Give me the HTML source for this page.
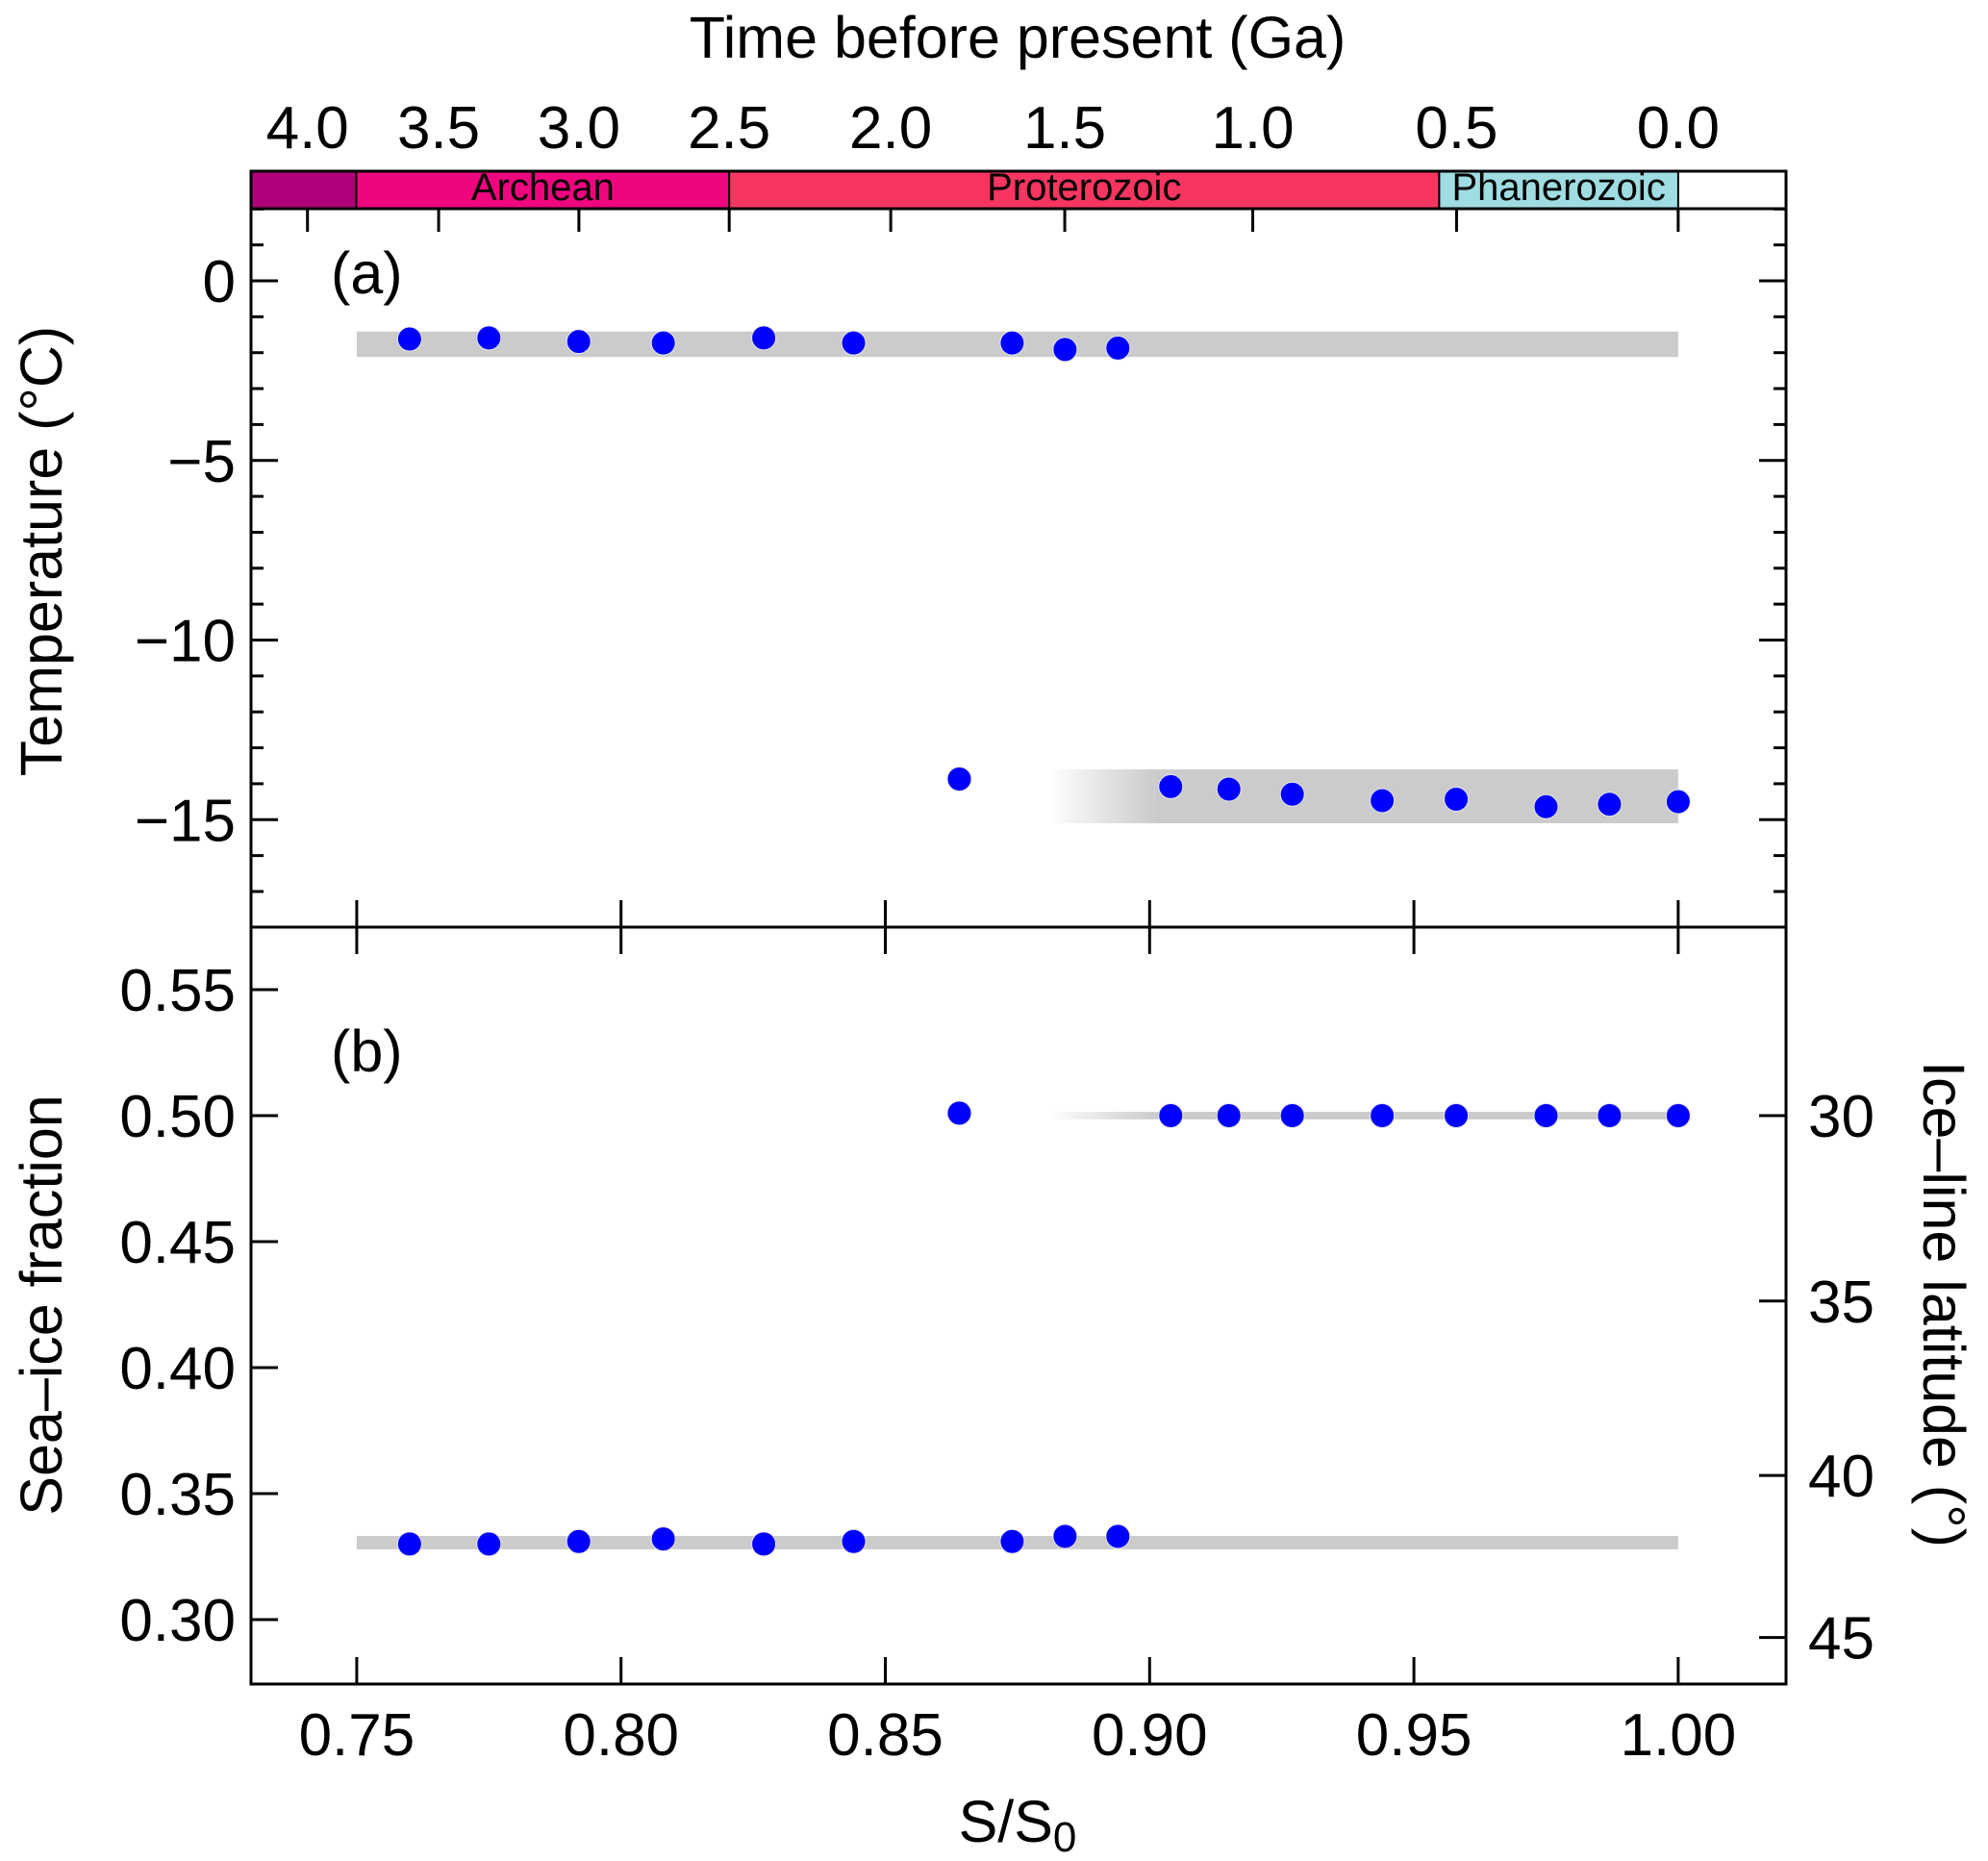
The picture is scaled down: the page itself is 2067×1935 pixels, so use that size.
<!DOCTYPE html>
<html><head><meta charset="utf-8"><style>
html,body{margin:0;padding:0;background:#fff;}
svg{display:block;font-family:"Liberation Sans",Arial,sans-serif;}
</style></head><body>
<svg id="chart" width="2067" height="1935" viewBox="0 0 2067 1935" xmlns="http://www.w3.org/2000/svg">
<defs>
<linearGradient id="fadeGrad" x1="0" x2="1" y1="0" y2="0">
<stop offset="0" stop-color="#cbcbcb" stop-opacity="0"/>
<stop offset="1" stop-color="#cbcbcb" stop-opacity="1"/>
</linearGradient>
</defs>
<g id="layer"></g>
</svg>
<script>
// ---- data ----
const warmS = [0.76,0.775,0.792,0.808,0.827,0.844,0.874,0.884,0.894];
const warmT = [-1.62,-1.59,-1.69,-1.73,-1.59,-1.73,-1.73,-1.91,-1.87];
const coldS = [0.864,0.904,0.915,0.927,0.944,0.958,0.975,0.987,1.0];
const coldT = [-13.87,-14.08,-14.15,-14.29,-14.47,-14.43,-14.64,-14.57,-14.5];
const warmIce = [0.330,0.330,0.331,0.332,0.330,0.331,0.331,0.333,0.333];
const coldIce = [0.501,0.500,0.500,0.500,0.500,0.500,0.500,0.500,0.500];
const xTicks = [0.75,0.80,0.85,0.90,0.95,1.00];
const xTickLabels = ["0.75","0.80","0.85","0.90","0.95","1.00"];
const tTicks = [0,-5,-10,-15];
const tTickLabels = ["0","\u22125","\u221210","\u221215"];
const fTicks = [0.30,0.35,0.40,0.45,0.50,0.55];
const fTickLabels = ["0.30","0.35","0.40","0.45","0.50","0.55"];
const latTicks = [30,35,40,45];
const timeTicks = [4.0,3.5,3.0,2.5,2.0,1.5,1.0,0.5,0.0];
const timeTickLabels = ["4.0","3.5","3.0","2.5","2.0","1.5","1.0","0.5","0.0"];
const eonNames = ["","Archean","Proterozoic","Phanerozoic"];
const eonStartGa = [4.3,3.81,2.5,0.541];
const eonEndGa = [3.81,2.5,0.541,0.0];
const eonColors = ["#b0007a","#ef067f","#f73560","#9fdde2"];
const warmBandT = [-1.41,-2.12];
const coldBandT = [-13.6,-15.1];
const warmBandF = [0.3332,0.3279];
const coldBandF = [0.5015,0.4985];

// ---- axes ----
const L=261,R=1857,TOPBAR=178,TOP=217,MID=964,BOT=1751;
const X0=0.73,X1=1.0204;
const FS=62, TFS=61;
function xs(s){return L+(s-X0)/(X1-X0)*(R-L);}
function yT(t){return 292 - t*37.35;}
function yF(f){return 1684-(f-0.30)*2620;}
function sOfGa(ga){return 1/(1+0.4*ga/4.57);}
function fOfLat(lat){return 1-Math.sin(lat*Math.PI/180);}

const NS="http://www.w3.org/2000/svg";
const layer=document.getElementById('layer');
function mk(tag,attrs,parent){const e=document.createElementNS(NS,tag);for(const k in attrs)e.setAttribute(k,attrs[k]);(parent||layer).appendChild(e);return e;}
function line(x1,y1,x2,y2,w){return mk('line',{x1:x1,y1:y1,x2:x2,y2:y2,stroke:'#000','stroke-width':w||3});}
function txt(x,y,s,size,anchor,extra){const e=mk('text',Object.assign({x:x,y:y,'font-size':size,'text-anchor':anchor||'middle',fill:'#000'},extra||{}));e.textContent=s;return e;}

// eon bar
for(let i=0;i<eonNames.length;i++){
  const x1=Math.max(L,xs(sOfGa(eonStartGa[i]))), x2=xs(sOfGa(eonEndGa[i]));
  const r=mk('rect',{x:x1,y:TOPBAR,width:x2-x1,height:TOP-TOPBAR,fill:eonColors[i],stroke:'#000','stroke-width':2});
  
  
  if(eonNames[i]){const t=txt((x1+x2)/2,TOP-9,eonNames[i],40);
    
    }
}

// bands
function band(y1,y2,xa,xb,fill,name){const r=mk('rect',{x:xa,y:Math.min(y1,y2),width:xb-xa,height:Math.abs(y2-y1),fill:fill});
  
  }
band(yT(warmBandT[0]),yT(warmBandT[1]),xs(0.75),xs(1.0),'#cbcbcb','warm-band-temperature');
band(yT(coldBandT[0]),yT(coldBandT[1]),xs(0.881),xs(0.901),'url(#fadeGrad)','cold-band-fade-temperature');
band(yT(coldBandT[0]),yT(coldBandT[1]),xs(0.901),xs(1.0),'#cbcbcb','cold-band-temperature');
band(yF(warmBandF[0]),yF(warmBandF[1]),xs(0.75),xs(1.0),'#cbcbcb','warm-band-ice');
band(yF(coldBandF[0]),yF(coldBandF[1]),xs(0.881),xs(0.901),'url(#fadeGrad)','cold-band-fade-ice');
band(yF(coldBandF[0]),yF(coldBandF[1]),xs(0.901),xs(1.0),'#cbcbcb','cold-band-ice');

// points
function dot(x,y,name){const c=mk('circle',{cx:x,cy:y,r:12.5,fill:'#0000ff',stroke:'#e6e6e6','stroke-width':1});
  
  }
warmS.forEach((s,i)=>dot(xs(s),yT(warmT[i]),'warm-temp-point'));
coldS.forEach((s,i)=>dot(xs(s),yT(coldT[i]),'cold-temp-point'));
warmS.forEach((s,i)=>dot(xs(s),yF(warmIce[i]),'warm-ice-point'));
coldS.forEach((s,i)=>dot(xs(s),yF(coldIce[i]),'cold-ice-point'));

// frames
mk('rect',{x:L,y:TOPBAR,width:R-L,height:BOT-TOPBAR,fill:'none',stroke:'#000','stroke-width':3});
line(L,TOP,R,TOP,3);
line(L,MID,R,MID,3);

// top time ticks
timeTicks.forEach((g,i)=>{const x=xs(sOfGa(g));line(x,TOP,x,TOP+24,3);
  const t=txt(x,154,timeTickLabels[i],FS);
  
  });

// S ticks
xTicks.forEach((s,i)=>{const x=xs(s);line(x,MID-28,x,MID+28,3);line(x,BOT-28,x,BOT,3);
  const t=txt(x,1825,xTickLabels[i],FS);
  
  });

// temperature ticks (both sides), minors every 1
for(let v=-18;v<=2;v++){const y=yT(v);if(y<TOP||y>MID)continue;const major=(v%5===0);const len=major?28:13;
  line(L,y,L+len,y,3);line(R-len,y,R,y,3);}
tTicks.forEach((v,i)=>{const t=txt(245,yT(v)+22,tTickLabels[i],FS,'end');
  
  });

// fraction ticks
fTicks.forEach((f,i)=>{const y=yF(f);line(L,y,L+28,y,3);
  const t=txt(245,y+22,fTickLabels[i],FS,'end');
  
  });
// latitude ticks right
latTicks.forEach(l=>{const y=yF(fOfLat(l));line(R-28,y,R,y,3);
  const t=txt(1880,y+22,String(l),FS,'start');
  
  });

// panel labels
const pa=txt(344,305,'(a)',TFS,'start');


const pb=txt(344,1114,'(b)',TFS,'start');



// titles
const tt=txt(1058,60,'Time before present (Ga)',TFS);


const yt=txt(0,0,'Temperature (\u00B0C)',TFS,'middle',{transform:'translate(64,573) rotate(-90)'});


const yb=txt(0,0,'Sea\u2013ice fraction',TFS,'middle',{transform:'translate(64,1357) rotate(-90)'});


const yr=txt(0,0,'Ice\u2013line latitude (\u00B0)',TFS,'middle',{transform:'translate(2000,1356) rotate(90)'});


const xt=mk('text',{x:1058,y:1915,'font-size':TFS,'text-anchor':'middle',fill:'#000'});


xt.innerHTML='S/S<tspan font-size="44" dy="10">0</tspan>';
</script>
</body></html>
